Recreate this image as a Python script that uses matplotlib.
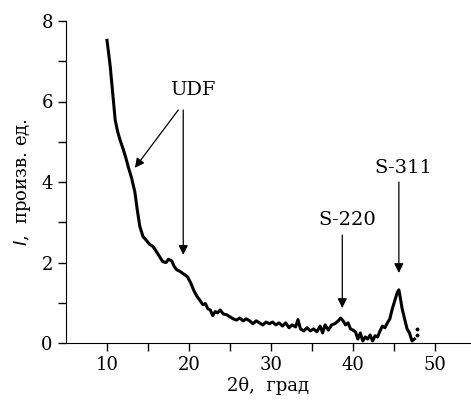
import matplotlib
matplotlib.use("Agg")
import matplotlib.pyplot as plt

two_theta = [10.0, 10.2, 10.4, 10.7, 11.0, 11.3, 11.6, 12.0, 12.3, 12.6, 13.0, 13.4, 13.7, 14.0,
             14.4, 14.8, 15.2, 15.6, 16.0, 16.4, 16.8, 17.2, 17.5, 17.9, 18.2, 18.5, 18.9, 19.3,
             19.8, 20.2, 20.6, 21.0, 21.3, 21.7, 22.0, 22.3, 22.6, 22.9, 23.2, 23.5, 23.8, 24.2,
             24.6, 25.0, 25.4, 25.8, 26.2, 26.6, 27.0, 27.4, 27.8, 28.2, 28.6, 29.0, 29.4, 29.8,
             30.2, 30.6, 31.0, 31.4, 31.8, 32.2, 32.6, 33.0, 33.3, 33.6, 34.0, 34.4, 34.8, 35.2,
             35.6, 36.0, 36.3, 36.6, 37.0, 37.4, 37.8, 38.2, 38.5, 38.8, 39.1, 39.4, 39.7, 40.0,
             40.3, 40.6, 40.9, 41.2, 41.5, 41.8, 42.1, 42.4, 42.7, 43.0, 43.3, 43.6, 43.9, 44.2,
             44.5, 44.8, 45.1, 45.4, 45.6, 45.8, 46.0, 46.3, 46.6, 46.9, 47.2, 47.5]
intensity = [7.52, 7.2, 6.86, 6.2, 5.54, 5.25, 5.04, 4.8, 4.6, 4.37, 4.1, 3.75, 3.3, 2.9,
             2.64, 2.55, 2.45, 2.4, 2.28, 2.15, 2.02, 2.0, 2.08, 2.04, 1.9, 1.82, 1.78, 1.72,
             1.65, 1.5, 1.3, 1.15, 1.07, 0.95, 0.98, 0.85, 0.82, 0.68, 0.78, 0.75, 0.82, 0.72,
             0.7, 0.65, 0.6, 0.57, 0.62, 0.55, 0.6, 0.55, 0.48, 0.55, 0.5, 0.45, 0.52, 0.48,
             0.52, 0.45, 0.5, 0.42, 0.5, 0.38, 0.45, 0.4, 0.58, 0.35, 0.3, 0.38, 0.3, 0.35,
             0.28, 0.42, 0.25, 0.45, 0.32, 0.45, 0.48, 0.55, 0.62, 0.55, 0.45, 0.5, 0.35, 0.32,
             0.28, 0.1, 0.25, 0.05, 0.15, 0.1, 0.2, 0.05, 0.18, 0.15, 0.3, 0.42, 0.38, 0.5,
             0.6, 0.85, 1.05, 1.25, 1.32, 1.1, 0.85, 0.6, 0.35, 0.25, 0.05, 0.1]
stray_x = [47.85, 47.85]
stray_y = [0.2, 0.35]

labels = ["UDF", "S-220", "S-311"]

plt.rcParams['font.family'] = ['DejaVu Serif']
fig = plt.figure(figsize=(4.71, 4.00), dpi=100)
ax = fig.add_axes([66/471, 57/400, 1 - 66/471, 322/400])

ax.plot(two_theta, intensity, color='black', lw=2.2, clip_on=False)
ax.plot(stray_x, stray_y, 'o', color='black', ms=1.8, clip_on=False)

ax.set_xlim(5, 54.4)
ax.set_ylim(0, 8)
ax.spines['top'].set_visible(False)
ax.spines['right'].set_visible(False)
ax.set_xticks([10, 20, 30, 40, 50])
ax.set_xticks([15, 25, 35, 45], minor=True)
ax.set_yticks([0, 2, 4, 6, 8])
ax.set_yticks([1, 3, 5, 7], minor=True)
ax.tick_params(which='both', direction='out', length=6, width=1, labelsize=13)

ax.set_xlabel("2θ,  град", fontsize=13, labelpad=2)
ax.set_ylabel(r"$I$,  произв. ед.", fontsize=13, labelpad=6)

arrow = dict(arrowstyle='-|>', color='black', lw=0.9, mutation_scale=14, shrinkA=0, shrinkB=0)
ax.text(20.5, 6.28, labels[0], ha='center', va='center', fontsize=14)
ax.annotate('', xy=(13.4, 4.35), xytext=(18.7, 5.79), arrowprops=arrow)
ax.annotate('', xy=(19.3, 2.19), xytext=(19.3, 5.79), arrowprops=arrow)
ax.text(39.3, 3.06, labels[1], ha='center', va='center', fontsize=14)
ax.annotate('', xy=(38.7, 0.87), xytext=(38.7, 2.68), arrowprops=arrow)
ax.text(46.1, 4.35, labels[2], ha='center', va='center', fontsize=14)
ax.annotate('', xy=(45.6, 1.74), xytext=(45.6, 4.0), arrowprops=arrow)

fig.savefig("out.png", dpi=100)
